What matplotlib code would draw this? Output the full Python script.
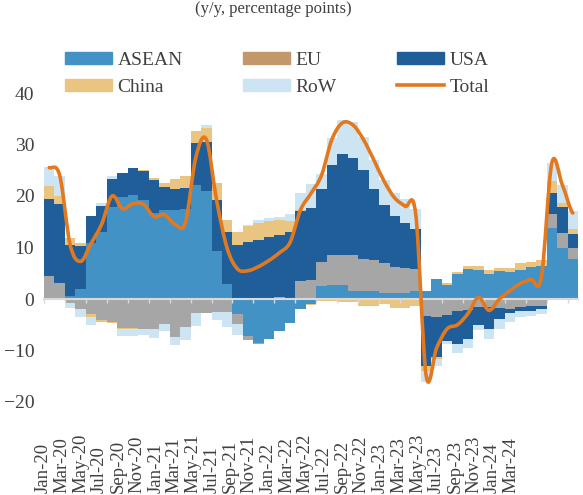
import numpy as np
import pandas as pd
import matplotlib
matplotlib.use("Agg")
import matplotlib.pyplot as plt
from matplotlib.path import Path
from matplotlib.patches import PathPatch, Patch
from matplotlib.lines import Line2D

months = pd.date_range("2020-01-01", periods=51, freq="MS").strftime("%b-%y").tolist()
tick_labels = months[::2]

# contributions, percentage points
asean = [0.0, 0.2, 0.6, 1.9, 10.9, 13.1, 17.8, 19.8, 20.2, 19.3, 16.7, 17.3,
         17.3, 17.5, 22.2, 20.9, 9.3, 3.0, -3.0, -7.2, -8.5, -7.8, -6.2, -4.6,
         -2.0, -1.0, 2.5, 2.8, 2.8, 1.5, 1.5, 1.5, 1.2, 1.2, 1.2, 1.5,
         1.5, 3.8, 2.8, 4.9, 5.8, 5.7, 4.9, 5.4, 5.3, 5.7, 6.2, 6.5,
         13.8, 9.9, 7.8]
other = [4.4, 2.9, -0.8, -2.0, -3.0, -4.1, -4.4, -5.6, -5.6, -5.9, -5.9, -4.9,
         -7.3, -5.5, -2.7, -2.8, -2.5, -2.5, -1.8, -0.8, -0.3, 0.0, 0.3, 0.0,
         3.4, 3.7, 4.6, 5.7, 5.7, 7.0, 6.3, 6.0, 5.7, 5.0, 4.8, 4.3,
         -3.3, -3.5, -3.2, -2.4, -2.2, -1.6, -1.6, -1.8, -1.9, -1.6, -1.3, -1.3,
         2.7, 2.9, 2.1]
usa = [15.0, 15.4, 9.9, 8.3, 5.3, 5.0, 5.5, 4.6, 5.2, 5.6, 6.4, 4.4,
       4.1, 4.0, 8.0, 9.6, 10.0, 10.1, 10.5, 11.1, 11.5, 12.0, 12.2, 13.1,
       13.6, 13.9, 14.2, 17.5, 19.6, 18.8, 17.3, 13.9, 11.3, 10.0, 8.7, 7.7,
       -9.7, -7.7, -5.0, -6.4, -5.5, -3.5, -4.2, -2.1, -0.9, -0.8, -1.1, -0.7,
       4.0, 5.0, 2.8]
china = [2.6, 1.5, 1.3, 0.7, -0.4, -0.3, -0.2, -0.3, -0.3, 0.2, 0.4, 0.8,
         1.9, 2.4, 2.5, 2.8, 3.2, 2.3, 2.6, 3.0, 3.2, 3.1, 2.9, 2.0,
         0.3, -0.2, -0.3, -0.3, -0.6, -0.6, -1.3, -1.3, -1.0, -1.8, -1.8, -1.3,
         -1.0, -0.4, 0.3, 0.3, 0.7, 0.8, 0.7, 0.6, 0.8, 1.2, 0.9, 1.0,
         2.5, 0.8, 0.8]
row = [3.7, 3.8, -1.0, -1.4, -1.7, 0.6, 0.6, -1.2, -1.3, -1.0, -1.6, -1.3,
       -1.6, -2.4, -2.6, 0.5, -1.5, -3.0, -2.1, 0.3, 0.6, 0.6, 0.5, 1.4,
       3.3, 4.8, 3.0, 5.2, 6.6, 7.1, 6.4, 5.6, 4.9, 4.3, 4.7, 4.0,
       -2.1, -1.5, -0.6, -1.6, -1.8, -0.9, -2.0, -1.9, -1.6, -1.1, -0.9, -1.0,
       3.4, 3.6, 3.5]
total = [25.5, 24.0, 10.5, 7.3, 10.8, 14.5, 20.0, 17.5, 18.5, 18.4, 16.0, 16.4,
         14.5, 14.8, 27.5, 31.0, 19.0, 9.8, 5.8, 5.5, 6.3, 7.5, 9.0, 11.0,
         17.3, 20.5, 24.0, 31.0, 34.2, 33.8, 31.0, 27.0, 22.8, 19.6, 18.0, 16.5,
         -14.9, -9.5, -5.8, -5.0, -2.8, 0.3, -2.2, 0.0, 1.6, 3.0, 3.8, 4.2,
         26.4, 22.2, 16.7]

c_asean = "#4292C6"
c_eu = "#C4976A"
c_usa = "#1F5E99"
c_china = "#EAC481"
c_row = "#CDE5F3"
c_other = "#A6A6A6"
c_total = "#E3791E"
txt = "#404040"

plt.rcParams["font.family"] = ["Liberation Serif", "DejaVu Serif"]

fig = plt.figure(figsize=(5.83, 4.95), dpi=100)
ax = fig.add_axes([44 / 583, 93 / 495, 534 / 583, 309 / 495])

x = np.arange(len(months))
pos_base = np.zeros(len(x))
neg_base = np.zeros(len(x))
for vals, col in [(asean, c_asean), (other, c_other), (usa, c_usa),
                  (china, c_china), (row, c_row)]:
    v = np.array(vals)
    p = np.where(v > 0, v, 0)
    n = np.where(v < 0, v, 0)
    ax.bar(x, p, bottom=pos_base, width=1.0, color=col, linewidth=0, zorder=1)
    ax.bar(x, n, bottom=neg_base, width=1.0, color=col, linewidth=0, zorder=1)
    pos_base += p
    neg_base += n

# smoothed total line (cubic bezier through the monthly points)
y = np.array(total)
verts = [(x[0], y[0])]
codes = [Path.MOVETO]
for i in range(len(x) - 1):
    ym = y[i - 1] if i > 0 else y[i]
    yp = y[i + 2] if i + 2 < len(y) else y[i + 1]
    verts += [(x[i] + 1 / 3, y[i] + (y[i + 1] - ym) / 6),
              (x[i + 1] - 1 / 3, y[i + 1] - (yp - y[i]) / 6),
              (x[i + 1], y[i + 1])]
    codes += [Path.CURVE4] * 3
ax.add_patch(PathPatch(Path(verts, codes), fill=False, edgecolor=c_total,
                       lw=2.6, capstyle="round", joinstyle="round", zorder=4))

ax.set_xlim(-0.5, len(x) - 0.5)
ax.set_ylim(-20, 40)
ax.set_yticks(range(-20, 41, 10))
for s in ["top", "right", "left"]:
    ax.spines[s].set_visible(False)
ax.spines["bottom"].set_position(("data", 0))
ax.spines["bottom"].set_color("#D9D9D9")
ax.spines["bottom"].set_linewidth(1.5)
ax.spines["bottom"].set_zorder(3)
ax.set_xticks(np.arange(-0.5, len(x) - 0.5, 2))
ax.tick_params(axis="x", length=3, width=1, color="#D9D9D9", labelbottom=False)
ax.tick_params(axis="y", length=0, pad=7, labelsize=14, labelcolor=txt)

# month labels along the bottom
for i, lab in enumerate(tick_labels):
    fig.text((43.5 + 18.7 * i) / 583, 2 / 495, lab, rotation=90, ha="center",
             va="bottom", fontsize=13.5, color=txt)

fig.text(273 / 583, 1 - 1 / 495, "(y/y, percentage points)", ha="center",
         va="top", fontsize=12, color=txt)

handles = [Patch(color=c_asean), Patch(color=c_china), Patch(color=c_eu),
           Patch(color=c_row), Patch(color=c_usa),
           Line2D([], [], color=c_total, lw=2.6)]
labels = ["ASEAN", "China", "EU", "RoW", "USA", "Total"]
leg = fig.legend(handles, labels, ncol=3, loc="upper left",
                 bbox_to_anchor=(65 / 583, 1 - 52 / 495), frameon=False,
                 fontsize=14, handlelength=2.4, handleheight=0.55,
                 handletextpad=0.3, columnspacing=3.1, labelspacing=0.5,
                 borderpad=0, borderaxespad=0)
for t in leg.get_texts():
    t.set_color(txt)

fig.savefig("out.png", dpi=100)
